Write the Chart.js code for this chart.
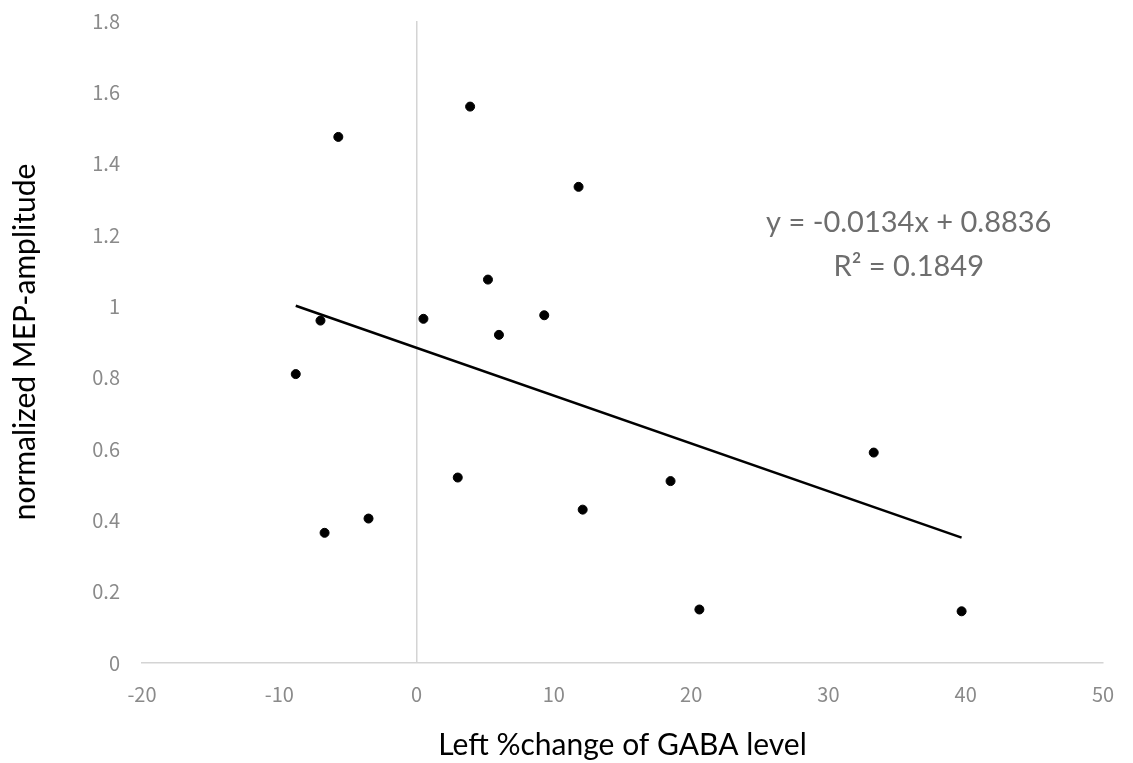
<!DOCTYPE html>
<html>
<head>
<meta charset="utf-8">
<script src="https://cdn.jsdelivr.net/npm/chart.js@4.4.1/dist/chart.umd.min.js"></script>
<style>
  html, body { margin: 0; padding: 0; background: #fff; }
  #wrap { width: 1133px; height: 763px; }
</style>
</head>
<body>
<div id="wrap"><canvas id="grafico"></canvas></div>
<script>
// valores
const gabaCambio = [-8.8, -7.0, -5.7, -6.7, -3.5, 0.5, 3.0, 3.9, 5.2, 6.0, 9.3, 11.8, 12.1, 18.5, 20.6, 33.3, 39.7];
const mepAmplitud = [0.81, 0.96, 1.475, 0.365, 0.405, 0.965, 0.52, 1.56, 1.075, 0.92, 0.975, 1.335, 0.43, 0.51, 0.15, 0.59, 0.145];
const yTicks = ['0', '0.2', '0.4', '0.6', '0.8', '1', '1.2', '1.4', '1.6', '1.8'];
const xTicks = ['-20', '-10', '0', '10', '20', '30', '40', '50'];

// linea de tendencia (Excel)
const pendiente = -0.0134;
const intercepto = 0.8836;
const r2 = 0.1849;

const xMin = Math.min(...gabaCambio);
const xMax = Math.max(...gabaCambio);
const tendencia = [
    { x: xMin, y: pendiente * xMin + intercepto },
    { x: xMax, y: pendiente * xMax + intercepto }
];

const puntos = gabaCambio.map((v, i) => ({ x: v, y: mepAmplitud[i] }));

// texto de la ecuacion
const ecuacionPlugin = {
    id: 'ecuacion',
    afterDatasetsDraw(chart) {
        const { ctx, scales } = chart;
        const cx = scales.x.getPixelForValue(35.85);
        const cy = scales.y.getPixelForValue(1.235);
        ctx.save();
        ctx.fillStyle = '#6e6e6e';
        ctx.font = '29px Lato, "Open Sans", sans-serif';
        ctx.textAlign = 'center';
        ctx.textBaseline = 'middle';
        ctx.fillText(`y = ${pendiente}x + ${intercepto}`, cx, cy);
        ctx.fillText(`R² = ${r2}`, cx, cy + 44);
        ctx.restore();
    }
};

const tickFont = { family: '"Noto Sans CJK JP", "Noto Sans", sans-serif', size: 20 };
const titleFont = { family: 'Lato, "Open Sans", sans-serif', size: 30 };

const ctx = document.querySelector('#grafico').getContext('2d');
new Chart(ctx, {
    type: 'scatter',
    data: {
        datasets: [
            {
                label: 'MEP',
                data: puntos,
                backgroundColor: '#000',
                borderColor: '#000',
                pointRadius: 4.5,
                pointHoverRadius: 4.5
            },
            {
                label: 'tendencia',
                type: 'line',
                data: tendencia,
                borderColor: '#000',
                borderWidth: 2.5,
                pointRadius: 0,
                fill: false
            }
        ]
    },
    options: {
        responsive: true,
        maintainAspectRatio: false,
        animation: false,
        layout: { padding: { top: 21, right: 30, left: 0, bottom: 0 } },
        plugins: {
            legend: { display: false },
            tooltip: { enabled: false }
        },
        scales: {
            x: {
                type: 'linear',
                min: -20,
                max: 50,
                afterBuildTicks: (s) => { s.ticks = xTicks.map(t => ({ value: Number(t) })); },
                afterFit: (s) => { s.height = 100; s.paddingLeft = 0; s.paddingRight = 0; },
                ticks: {
                    font: tickFont,
                    color: '#8a8a8a',
                    padding: 19,
                    maxRotation: 0,
                    callback: (v) => String(v)
                },
                grid: {
                    drawTicks: false,
                    lineWidth: 1.5,
                    color: (c) => (c.tick && c.tick.value === 0 ? '#d4d4d4' : 'rgba(0,0,0,0)')
                },
                border: { display: true, color: '#d4d4d4', width: 1.5 },
                title: {
                    display: true,
                    text: 'Left %change of GABA level',
                    font: titleFont,
                    color: '#000',
                    padding: { bottom: 0 }
                }
            },
            y: {
                min: 0,
                max: 1.8,
                afterBuildTicks: (s) => { s.ticks = yTicks.map(t => ({ value: Number(t) })); },
                afterFit: (s) => { s.width = 142; s.paddingTop = 0; s.paddingBottom = 0; },
                ticks: {
                    font: tickFont,
                    color: '#8a8a8a',
                    padding: 22,
                    callback: (v) => String(Number(v.toFixed(1)))
                },
                grid: { display: false, drawTicks: false },
                border: { display: false },
                title: {
                    display: true,
                    text: 'normalized MEP-amplitude',
                    font: titleFont,
                    color: '#000',
                    padding: { top: 7 }
                }
            }
        }
    },
    plugins: [ecuacionPlugin]
});
</script>
</body>
</html>
